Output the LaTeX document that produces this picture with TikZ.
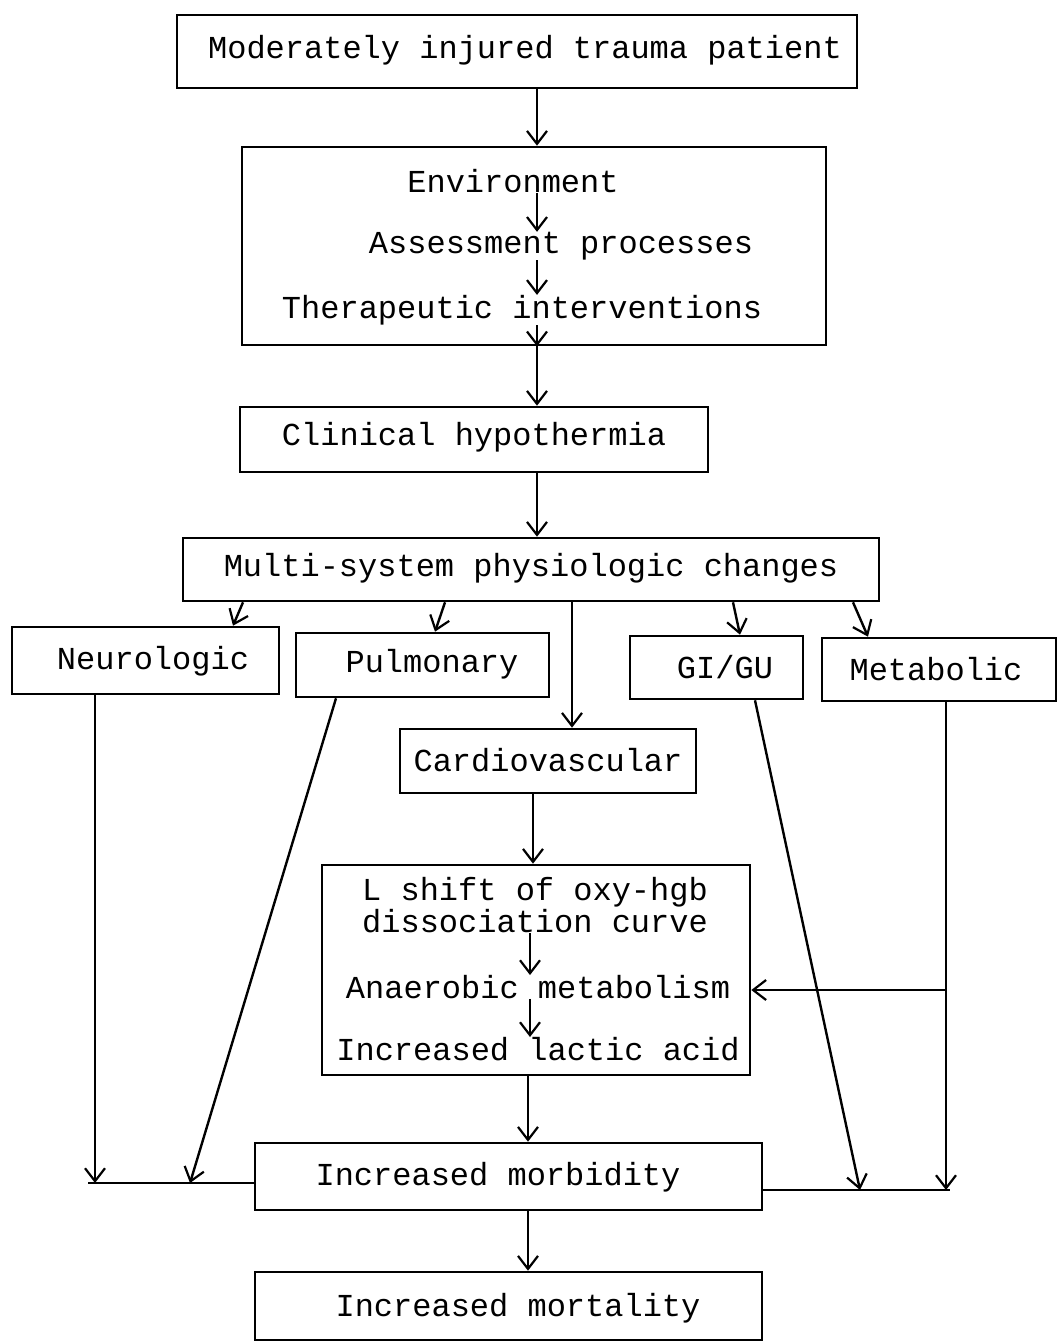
\documentclass[tikz,border=0pt]{standalone}
\usepackage{fontspec}
\setmonofont{Liberation Mono}
\usetikzlibrary{arrows.meta}
\begin{document}
\begin{tikzpicture}[x=1pt,y=-1pt,
 box/.style={draw,line width=2.6pt,inner sep=0pt},
 txt/.style={inner sep=0pt,font=\ttfamily\fontsize{32}{34}\selectfont,align=center},
 arr/.style={line width=2.4pt,-{Straight Barb[length=13pt,width=20pt,line width=2.2pt]}},
 ln/.style={line width=2.4pt}]
\useasboundingbox (0,0) rectangle (1058,1342);
% boxes
\node[box,minimum width=680pt,minimum height=73pt] (top) at (517,51.5) {};
\node[txt] (toptxt) at (525,50) {Moderately injured trauma patient};
\node[box,minimum width=584pt,minimum height=198pt] (env) at (534,246) {};
\node[txt] (env1) at (513,181) {Environment};
\node[txt] (env2) at (561,246) {Assessment processes};
\node[txt] (env3) at (522,310) {Therapeutic interventions};
\node[box,minimum width=468pt,minimum height=65pt] (clin) at (474,439.5) {};
\node[txt] (clintxt) at (474,437) {Clinical hypothermia};
\node[box,minimum width=696pt,minimum height=63pt] (multi) at (531,569.5) {};
\node[txt] (multitxt) at (531,568) {Multi-system physiologic changes};
\node[box,minimum width=267pt,minimum height=67pt] (neuro) at (145.5,660.5) {};
\node[txt] (neurotxt) at (153,661) {Neurologic};
\node[box,minimum width=253pt,minimum height=64pt] (pulm) at (422.5,665) {};
\node[txt] (pulmtxt) at (432,664) {Pulmonary};
\node[box,minimum width=173pt,minimum height=63pt] (gi) at (716.5,667.5) {};
\node[txt] (gitxt) at (725,667) {GI/GU};
\node[box,minimum width=234pt,minimum height=63pt] (metab) at (939,669.5) {};
\node[txt] (metabtxt) at (936,669) {Metabolic};
\node[box,minimum width=296pt,minimum height=64pt] (cardio) at (548,761) {};
\node[txt] (cardiotxt) at (548,760) {Cardiovascular};
\node[box,minimum width=428pt,minimum height=210pt] (lshift) at (536,970) {};
\node[txt] (l12) at (535,905) {L shift of oxy-hgb\\[-2pt] dissociation curve};
\node[txt] (l3) at (538,987) {Anaerobic metabolism};
\node[txt] (l4) at (538,1049) {Increased lactic acid};
\node[box,minimum width=507pt,minimum height=67pt] (morb) at (508.5,1176.5) {};
\node[txt] (morbtxt) at (498,1177) {Increased morbidity};
\node[box,minimum width=507pt,minimum height=68pt] (mort) at (508.5,1306) {};
\node[txt] (morttxt) at (518,1308) {Increased mortality};
% column coordinates
\coordinate (cA) at (537,0);
\coordinate (cC) at (572,0);
\coordinate (cB) at (533,0);
\coordinate (cL) at (530,0);
\coordinate (cM) at (528,0);
\coordinate (lj) at (88,1183);
\coordinate (rj) at (950,1190);
\coordinate (nl) at (95,0);
\coordinate (p1) at (336,0);
\coordinate (p2) at (190,0);
\coordinate (g1) at (755,0);
\coordinate (g2) at (860,0);
\coordinate (m1) at (946,0);
\coordinate (ma) at (946,990);
\coordinate (s1) at (243,0);\coordinate (t1) at (233,0);
\coordinate (s2) at (445,0);\coordinate (t2) at (435,0);
\coordinate (s3) at (733,0);\coordinate (t3) at (740,0);
\coordinate (s4) at (853,0);\coordinate (t4) at (868,0);
% connectors
\draw[arr] (top.south -| cA) -- (env.north -| cA);
\draw[arr] (env1.south -| cA) -- (env2.north -| cA);
\draw[arr] (env2.south -| cA) -- (env3.north -| cA);
\draw[arr] (env3.south -| cA) -- (env.south -| cA);
\draw[arr] (env.south -| cA) -- (clin.north -| cA);
\draw[arr] (clin.south -| cA) -- (multi.north -| cA);
\draw[arr] (multi.south -| s1) -- (neuro.north -| t1);
\draw[arr] (multi.south -| s2) -- (pulm.north -| t2);
\draw[arr] (multi.south -| s3) -- (gi.north -| t3);
\draw[arr] (multi.south -| s4) -- (metab.north -| t4);
\draw[arr] (multi.south -| cC) -- (cardio.north -| cC);
\draw[arr] (cardio.south -| cB) -- (lshift.north -| cB);
\draw[arr] (l12.south -| cL) -- (l3.north -| cL);
\draw[arr] (l3.south -| cL) -- (l4.north -| cL);
\draw[arr] (lshift.south -| cM) -- (morb.north -| cM);
\draw[arr] (morb.south -| cM) -- (mort.north -| cM);
\draw[arr] (neuro.south -| nl) -- (nl |- lj);
\draw[arr] (pulm.south -| p1) -- (p2 |- lj);
\draw[ln] (lj) -- (lj -| morb.west);
\draw[arr] (gi.south -| g1) -- (g2 |- rj);
\draw[arr] (metab.south -| m1) -- (m1 |- rj);
\draw[ln] (rj -| morb.east) -- (rj);
\draw[arr] (ma) -- (ma -| lshift.east);
\end{tikzpicture}
\end{document}
